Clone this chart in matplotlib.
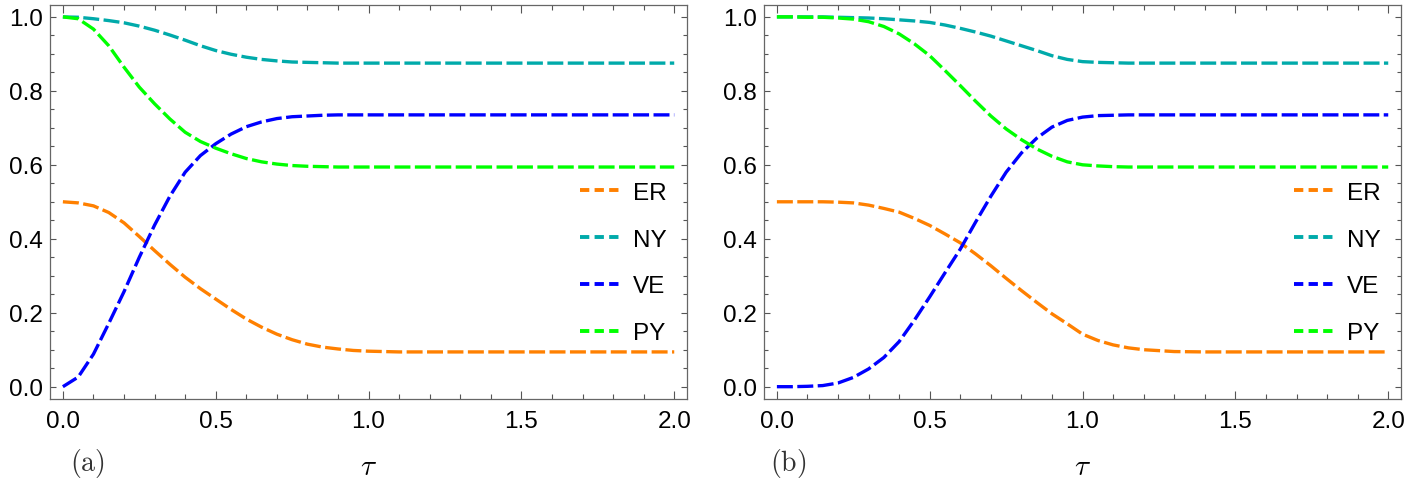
import matplotlib
matplotlib.use("Agg")
import matplotlib.pyplot as plt
from matplotlib.lines import Line2D
from matplotlib.ticker import MultipleLocator

plt.rcParams["font.family"] = ["Liberation Sans", "DejaVu Sans"]
plt.rcParams["mathtext.fontset"] = "cm"
plt.rcParams["lines.scale_dashes"] = False

# ===================== DATA =====================

tau = [0.0, 0.05, 0.1, 0.15, 0.2, 0.25, 0.3, 0.35, 0.4, 0.45, 0.5, 0.55, 0.6,
       0.65, 0.7, 0.75, 0.8, 0.85, 0.9, 0.95, 1.0, 1.05, 1.1, 1.15, 1.2, 1.3,
       1.4, 1.6, 1.8, 2.0]

# panel (a)
er_a = [0.500, 0.497, 0.489, 0.471, 0.443, 0.406, 0.368, 0.331, 0.296, 0.265,
        0.237, 0.209, 0.183, 0.161, 0.142, 0.127, 0.115, 0.107, 0.102, 0.098,
        0.096, 0.095, 0.094, 0.094, 0.094, 0.094, 0.094, 0.094, 0.094, 0.094]
ny_a = [1.000, 0.999, 0.995, 0.990, 0.984, 0.975, 0.964, 0.951, 0.937, 0.922,
        0.909, 0.899, 0.891, 0.885, 0.881, 0.878, 0.877, 0.876, 0.875, 0.875,
        0.875, 0.875, 0.875, 0.875, 0.875, 0.875, 0.875, 0.875, 0.875, 0.875]
ve_a = [0.000, 0.026, 0.088, 0.171, 0.257, 0.350, 0.437, 0.515, 0.580, 0.625,
        0.657, 0.683, 0.703, 0.716, 0.725, 0.730, 0.732, 0.734, 0.735, 0.735,
        0.735, 0.735, 0.735, 0.735, 0.735, 0.735, 0.735, 0.735, 0.735, 0.735]
py_a = [1.000, 0.995, 0.967, 0.922, 0.864, 0.810, 0.765, 0.724, 0.688, 0.663,
        0.645, 0.630, 0.617, 0.608, 0.602, 0.598, 0.596, 0.595, 0.594, 0.594,
        0.594, 0.594, 0.594, 0.594, 0.594, 0.594, 0.594, 0.594, 0.594, 0.594]

# panel (b)
er_b = [0.500, 0.500, 0.500, 0.500, 0.499, 0.497, 0.491, 0.482, 0.472, 0.455,
        0.436, 0.413, 0.389, 0.359, 0.327, 0.293, 0.260, 0.228, 0.197, 0.170,
        0.142, 0.125, 0.113, 0.105, 0.100, 0.095, 0.094, 0.094, 0.094, 0.094]
ny_b = [1.000, 1.000, 1.000, 1.000, 0.999, 0.998, 0.997, 0.995, 0.992, 0.989,
        0.985, 0.978, 0.969, 0.959, 0.948, 0.935, 0.922, 0.909, 0.895, 0.885,
        0.879, 0.877, 0.876, 0.875, 0.875, 0.875, 0.875, 0.875, 0.875, 0.875]
ve_b = [0.000, 0.000, 0.001, 0.003, 0.010, 0.025, 0.048, 0.079, 0.122, 0.180,
        0.243, 0.308, 0.372, 0.445, 0.515, 0.580, 0.632, 0.672, 0.702, 0.720,
        0.729, 0.733, 0.734, 0.735, 0.735, 0.735, 0.735, 0.735, 0.735, 0.735]
py_b = [1.000, 1.000, 0.999, 0.999, 0.997, 0.994, 0.987, 0.974, 0.954, 0.927,
        0.895, 0.855, 0.814, 0.772, 0.732, 0.697, 0.668, 0.643, 0.623, 0.608,
        0.600, 0.597, 0.595, 0.594, 0.594, 0.594, 0.594, 0.594, 0.594, 0.594]

labels = ["ER", "NY", "VE", "PY"]
colors = ["#ff8000", "#00aaaa", "#0000ff", "#00ff00"]
panels = [("(a)", [er_a, ny_a, ve_a, py_a]),
          ("(b)", [er_b, ny_b, ve_b, py_b])]

# ===================== PLOT =====================

fig = plt.figure(figsize=(14.26, 4.89), dpi=100)
lefts = [0.0351, 0.5358]
tag_x = [0.061, 0.553]

for i, (tag, series) in enumerate(panels):
    ax = fig.add_axes([lefts[i], 0.182, 0.4465, 0.806])
    for y, lab, c in zip(series, labels, colors):
        ax.plot(tau, y, color=c, lw=2.4, ls=(0, (11.5, 3.2)))

    ax.set_xlim(-0.042, 2.041)
    ax.set_ylim(-0.0333, 1.0325)
    ax.xaxis.set_major_locator(MultipleLocator(0.5))
    ax.xaxis.set_minor_locator(MultipleLocator(0.1))
    ax.yaxis.set_major_locator(MultipleLocator(0.2))
    ax.yaxis.set_minor_locator(MultipleLocator(0.05))
    ax.xaxis.set_major_formatter(lambda v, p: f"{v:.1f}")
    ax.yaxis.set_major_formatter(lambda v, p: f"{v:.1f}")

    ax.tick_params(which="both", direction="in", top=True, right=True,
                   color="#555555", width=0.8, labelsize=17.5)
    ax.tick_params(axis="x", which="major", length=6, pad=8)
    ax.tick_params(axis="x", which="minor", length=3.8)
    ax.tick_params(axis="y", which="major", length=4, pad=5)
    ax.tick_params(axis="y", which="minor", length=2.8)
    for s in ax.spines.values():
        s.set_color("#666666")
        s.set_linewidth(0.9)

    # legend keys use a shorter dash than the curves, as in the original
    handles = [Line2D([], [], color=c, lw=2.8, ls=(0, (6.7, 3.8)))
               for c in colors]
    ax.legend(handles, labels, loc="center right",
              bbox_to_anchor=(0.968, 0.345), frameon=False,
              fontsize=17.5, handlelength=1.6, handletextpad=0.55,
              labelspacing=1.02, borderpad=0, borderaxespad=0)

    fig.text(tag_x[i], 0.053, r"$\mathrm{" + tag + "}$", fontsize=20,
             color="#333333", ha="center", va="center")
    fig.text(lefts[i] + 0.4465 / 2, 0.045, r"$\tau$", fontsize=21,
             ha="center", va="center")

fig.savefig("out.png", dpi=100)
plt.close(fig)
